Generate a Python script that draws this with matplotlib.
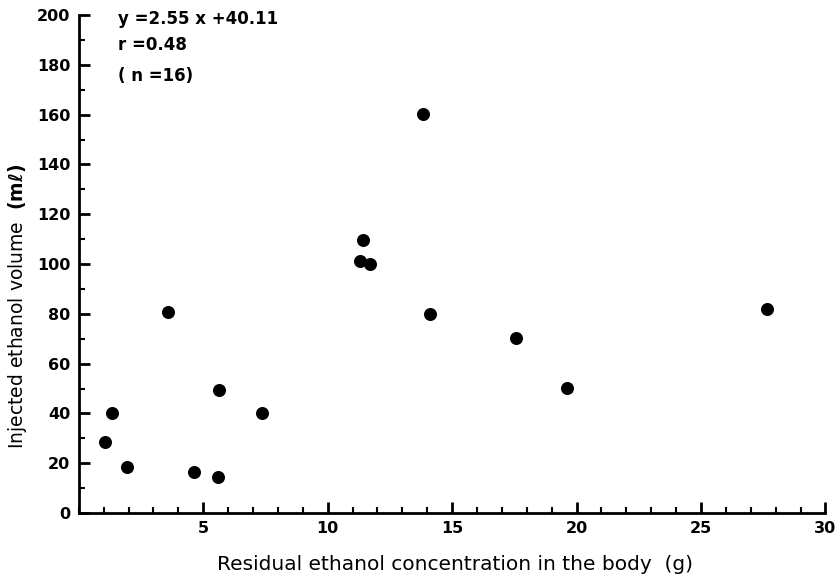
import matplotlib
matplotlib.use("Agg")
import matplotlib.pyplot as plt
from matplotlib.ticker import MultipleLocator

# residual ethanol (g) vs injected ethanol volume (ml)
residual = [1.04, 1.35, 1.94, 3.57, 4.64, 5.58, 5.64, 7.37,
            11.31, 11.42, 11.70, 13.82, 14.12, 17.55, 19.60, 27.67]
injected = [28.5, 40.3, 18.6, 80.7, 16.5, 14.3, 49.5, 40.2,
            101.2, 109.6, 100.1, 160.1, 79.9, 70.3, 50.1, 81.9]

x_ticks = [5, 10, 15, 20, 25, 30]
y_ticks = [0, 20, 40, 60, 80, 100, 120, 140, 160, 180, 200]
stats_lines = ["y =2.55 x +40.11", "r =0.48", "( n =16)"]


def build_plot():
    fig = plt.figure(figsize=(8.38, 5.79), dpi=100)
    ax = fig.add_axes([0.094, 0.114, 0.891, 0.86])

    ax.scatter(residual, injected, s=70, color="black", zorder=3)

    ax.set_xlim(0, 30)
    ax.set_ylim(0, 200)
    ax.spines["top"].set_visible(False)
    ax.spines["right"].set_visible(False)
    ax.spines["left"].set_linewidth(2)
    ax.spines["bottom"].set_linewidth(2)

    ax.set_xticks(x_ticks)
    ax.set_yticks(y_ticks)
    ax.xaxis.set_minor_locator(MultipleLocator(1))
    ax.yaxis.set_minor_locator(MultipleLocator(10))
    ax.tick_params(which="major", direction="in", length=8, width=2, pad=6)
    ax.tick_params(which="minor", direction="in", length=4, width=1.5)

    for lab in ax.get_xticklabels() + ax.get_yticklabels():
        lab.set_fontweight("bold")
        lab.set_fontsize(11.5)

    ax.set_xlabel("Residual ethanol concentration in the body  (g)",
                  fontsize=14.5)
    ax.xaxis.set_label_coords(0.504, -0.085)
    ax.set_ylabel(r"Injected ethanol volume  $\mathbf{(m\ell)}$", fontsize=13.5)
    ax.yaxis.set_label_coords(-0.066, 0.416)

    ys = [0.992, 0.94, 0.878]
    for txt, yy in zip(stats_lines, ys):
        ax.text(0.052, yy, txt, transform=ax.transAxes, fontsize=12,
                fontweight="bold", va="center", ha="left")

    fig.savefig("out.png", dpi=100)


if __name__ == "__main__":
    build_plot()
